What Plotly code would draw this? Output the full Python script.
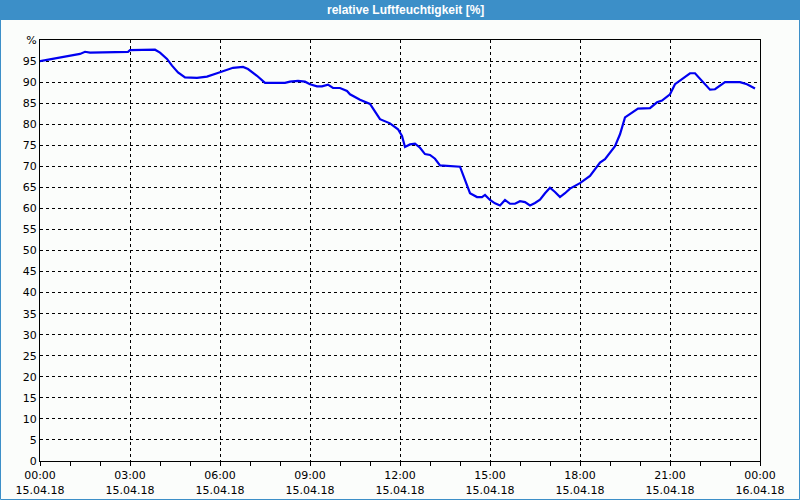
import plotly.graph_objects as go

# --- data ---
times = [
    "00:00", "00:30", "01:00", "01:20", "01:30", "01:40", "02:56", "03:00", "03:50", "04:00",
    "04:14", "04:24", "04:36", "04:50", "05:14", "05:34", "05:54", "06:14", "06:26", "06:46",
    "06:56", "07:14", "07:30", "08:10", "08:20", "08:36", "08:50", "09:00", "09:14", "09:24",
    "09:36", "09:46", "10:00", "10:14", "10:20", "10:40", "11:00", "11:20", "11:40", "11:56",
    "12:04", "12:10", "12:20", "12:30", "12:40", "12:50", "13:00", "13:10", "13:20", "14:00",
    "14:06", "14:14", "14:20", "14:34", "14:44", "14:50", "15:00", "15:10", "15:20", "15:30",
    "15:40", "15:50", "16:00", "16:10", "16:20", "16:30", "16:40", "16:50", "17:00", "17:10",
    "17:20", "17:30", "17:40", "18:00", "18:20", "18:40", "18:50", "19:10", "19:20", "19:30",
    "19:44", "19:56", "20:20", "20:34", "20:44", "21:00", "21:10", "21:20", "21:40", "21:50",
    "22:04", "22:20", "22:30", "22:50", "23:20", "23:34", "23:50",
]
humidity = [
    95.0, 95.6, 96.2, 96.7, 97.2, 97.0, 97.2, 97.6, 97.7, 97.0,
    95.5, 93.9, 92.3, 91.1, 91.0, 91.3, 92.1, 92.8, 93.4, 93.6,
    93.1, 91.5, 89.8, 89.8, 90.1, 90.3, 90.1, 89.5, 89.0, 89.0,
    89.4, 88.6, 88.6, 87.9, 87.1, 85.8, 84.8, 81.2, 80.2, 78.8,
    77.2, 74.6, 75.2, 75.4, 74.4, 72.9, 72.7, 71.8, 70.2, 69.9,
    68.1, 65.7, 63.6, 62.7, 62.7, 63.2, 62.0, 61.2, 60.7, 62.0,
    61.1, 61.1, 61.7, 61.5, 60.7, 61.3, 62.1, 63.6, 64.9, 63.9,
    62.7, 63.6, 64.7, 66.0, 67.7, 70.9, 71.7, 74.8, 77.6, 81.6,
    82.8, 83.7, 83.8, 85.2, 85.6, 87.1, 89.5, 90.3, 92.1, 92.1,
    90.3, 88.2, 88.3, 90.0, 90.0, 89.5, 88.5,
]
x_tick_times = ["2018-04-15 00:00", "2018-04-15 03:00", "2018-04-15 06:00", "2018-04-15 09:00",
                "2018-04-15 12:00", "2018-04-15 15:00", "2018-04-15 18:00", "2018-04-15 21:00",
                "2018-04-16 00:00"]
x_tick_labels = ["00:00<br>15.04.18", "03:00<br>15.04.18", "06:00<br>15.04.18", "09:00<br>15.04.18",
                 "12:00<br>15.04.18", "15:00<br>15.04.18", "18:00<br>15.04.18", "21:00<br>15.04.18",
                 "00:00<br>16.04.18"]
y_tick_vals = list(range(0, 101, 5))
y_tick_labels = [str(v) for v in range(0, 100, 5)] + ["%"]
title = "relative Luftfeuchtigkeit [%]"

x = ["2018-04-15 " + t for t in times]

BLUE_BAR = "#3c8fc8"
BG = "#fbfdfb"

fig = go.Figure()
fig.add_trace(go.Scatter(x=x, y=humidity, mode="lines",
                         line=dict(color="#0000f0", width=2.2), hoverinfo="skip"))

W, H = 800, 500
ml, mr, mt, mb = 40, 40, 40, 39
pw, ph = W - ml - mr, H - mt - mb

def px_x(p):
    return (p - ml) / pw

def px_y(p):
    return 1 + (mt - p) / ph

fig.update_layout(
    width=W, height=H,
    margin=dict(l=ml, r=mr, t=mt, b=mb),
    paper_bgcolor=BG, plot_bgcolor=BG,
    showlegend=False,
    font=dict(family="DejaVu Sans", size=11, color="black"),
    xaxis=dict(
        type="date", automargin=False,
        range=["2018-04-15 00:00", "2018-04-16 00:00"],
        tickvals=x_tick_times, ticktext=x_tick_labels,
        showgrid=True, gridcolor="black", griddash="3px,3px", gridwidth=1,
        showline=True, linecolor="black", linewidth=1, mirror=True,
        ticks="outside", ticklen=4, tickcolor="black",
        minor=dict(dtick=3600000, ticks="outside", ticklen=4, tickcolor="black", showgrid=False),
        zeroline=False, fixedrange=True,
    ),
    yaxis=dict(
        range=[0, 100], automargin=False,
        tickvals=y_tick_vals, ticktext=y_tick_labels,
        showgrid=True, gridcolor="black", griddash="3px,3px", gridwidth=1,
        showline=True, linecolor="black", linewidth=1, mirror=True,
        ticks="", zeroline=False, fixedrange=True,
    ),
    shapes=[
        dict(type="rect", xref="paper", yref="paper",
             x0=px_x(0), x1=px_x(W), y0=px_y(20), y1=px_y(0),
             fillcolor=BLUE_BAR, line=dict(width=0), layer="above"),
        dict(type="rect", xref="paper", yref="paper",
             x0=px_x(0.5), x1=px_x(W - 0.5), y0=px_y(H - 0.5), y1=px_y(0.5),
             fillcolor="rgba(0,0,0,0)", line=dict(color=BLUE_BAR, width=1), layer="above"),
    ],
    annotations=[
        dict(text=title, xref="paper", yref="paper", x=px_x(405), y=px_y(10),
             xanchor="center", yanchor="middle", showarrow=False,
             font=dict(family="Liberation Sans", size=12, color="white", weight="bold")),
    ],
)

fig.write_html("out.html")
